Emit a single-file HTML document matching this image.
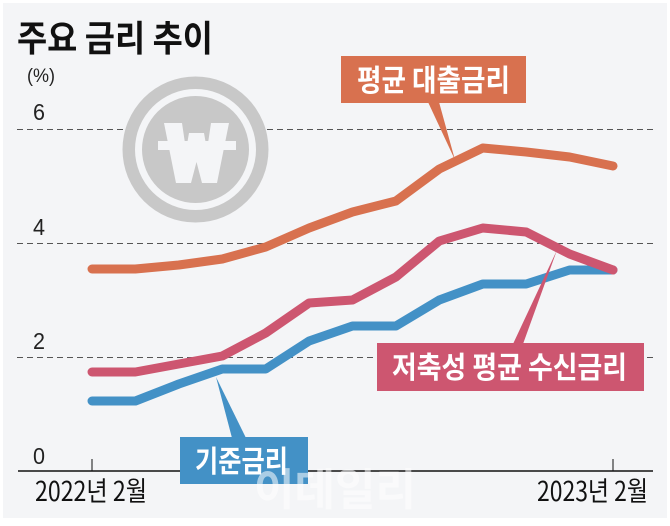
<!DOCTYPE html>
<html><head><meta charset="utf-8"><style>
html,body{margin:0;padding:0;background:#fff;}
svg{display:block;}
text{font-family:"Liberation Sans","Noto Sans CJK KR",sans-serif;}
.k{font-family:"Noto Sans CJK KR","Liberation Sans",sans-serif;}
</style></head><body>
<svg width="670" height="526" viewBox="0 0 670 526" xmlns="http://www.w3.org/2000/svg">
<rect x="0" y="0" width="670" height="526" fill="#ffffff"/>
<rect x="3" y="3" width="664" height="515" fill="#f4f5f7"/>

<!-- title -->
<text class="k" x="17" y="51" font-size="36" font-weight="bold" fill="#111" textLength="196" lengthAdjust="spacingAndGlyphs">주요 금리 추이</text>
<text x="27" y="82" font-size="19" fill="#222" textLength="28" lengthAdjust="spacingAndGlyphs">(%)</text>

<!-- gridlines -->
<g stroke="#555" stroke-width="1" stroke-dasharray="6,4">
<line x1="17" y1="129.5" x2="653" y2="129.5"/>
<line x1="17" y1="243.5" x2="653" y2="243.5"/>
<line x1="17" y1="357.5" x2="653" y2="357.5"/>
</g>

<!-- y labels -->
<g font-size="23" fill="#222">
<text x="33" y="120" textLength="12" lengthAdjust="spacingAndGlyphs">6</text>
<text x="33" y="235" textLength="12" lengthAdjust="spacingAndGlyphs">4</text>
<text x="33" y="349" textLength="12" lengthAdjust="spacingAndGlyphs">2</text>
<text x="33" y="464" textLength="12" lengthAdjust="spacingAndGlyphs">0</text>
</g>

<!-- won icon -->
<circle cx="195.5" cy="149.5" r="73" fill="#c8c8c8"/>
<circle cx="195.5" cy="149.5" r="60.5" fill="#f4f5f7"/>
<circle cx="195.5" cy="149.5" r="53.5" fill="#c8c8c8"/>
<polygon fill="#f4f5f7" points="164,123 182,123 186,150 189,133 204,133 207,150 211,123 229,123 217,183 202,183 196.5,162 191,183 176,183"/>
<rect x="158" y="141" width="78" height="9" fill="#f4f5f7"/>

<!-- axis -->
<line x1="18" y1="471" x2="653" y2="471" stroke="#111" stroke-width="1.5"/>
<line x1="92" y1="459" x2="92" y2="471" stroke="#111" stroke-width="1"/>
<line x1="613" y1="459" x2="613" y2="471" stroke="#111" stroke-width="1"/>

<text class="k" x="35" y="501" font-size="27" fill="#111" textLength="112" lengthAdjust="spacingAndGlyphs">2022년 2월</text>
<text class="k" x="537" y="501" font-size="27" fill="#111" textLength="111" lengthAdjust="spacingAndGlyphs">2023년 2월</text>

<!-- series -->
<g fill="none" stroke-width="9" stroke-linecap="round" stroke-linejoin="round">
<polyline stroke="#d8714f" points="92,269 135.4,269 178.8,265 222.3,259 265.7,247 309.1,228 352.5,212 395.9,201 439.3,169 482.8,148 526.2,152 569.6,157 613,166"/>
<polyline stroke="#4391c6" points="92,401 135.4,401 178.8,384 222.3,369 265.7,369 309.1,341 352.5,326 395.9,326 439.3,300 482.8,284 526.2,284 569.6,270 613,270"/>
<polyline stroke="#cd5670" points="92,372 135.4,372 178.8,364 222.3,356 265.7,333 309.1,303 352.5,300 395.9,277 439.3,241 482.8,228 526.2,232 569.6,254 613,270"/>
</g>

<!-- orange label -->
<polygon fill="#d8714f" points="428,102 439,102 455,160"/>
<rect x="341" y="56" width="185" height="47" fill="#d8714f"/>
<text class="k" x="357" y="91" font-size="30" font-weight="bold" fill="#fff" textLength="153" lengthAdjust="spacingAndGlyphs">평균 대출금리</text>

<!-- red label -->
<polygon fill="#cd5670" points="513,344 523,344 557,250"/>
<rect x="377" y="343" width="267" height="48" fill="#cd5670"/>
<text class="k" x="392" y="378" font-size="30" font-weight="bold" fill="#fff" textLength="235" lengthAdjust="spacingAndGlyphs">저축성 평균 수신금리</text>

<!-- blue label -->
<polygon fill="#4391c6" points="232,438 246,438 216,377"/>
<rect x="180" y="437" width="128" height="47" fill="#4391c6"/>
<text class="k" x="195" y="472" font-size="30" font-weight="bold" fill="#fff" textLength="93" lengthAdjust="spacingAndGlyphs">기준금리</text>

<!-- watermark -->
<text class="k" x="254" y="505" font-size="44" font-weight="bold" fill="#ffffff" opacity="0.55" textLength="162" lengthAdjust="spacingAndGlyphs">이데일리</text>
</svg>
</body></html>
